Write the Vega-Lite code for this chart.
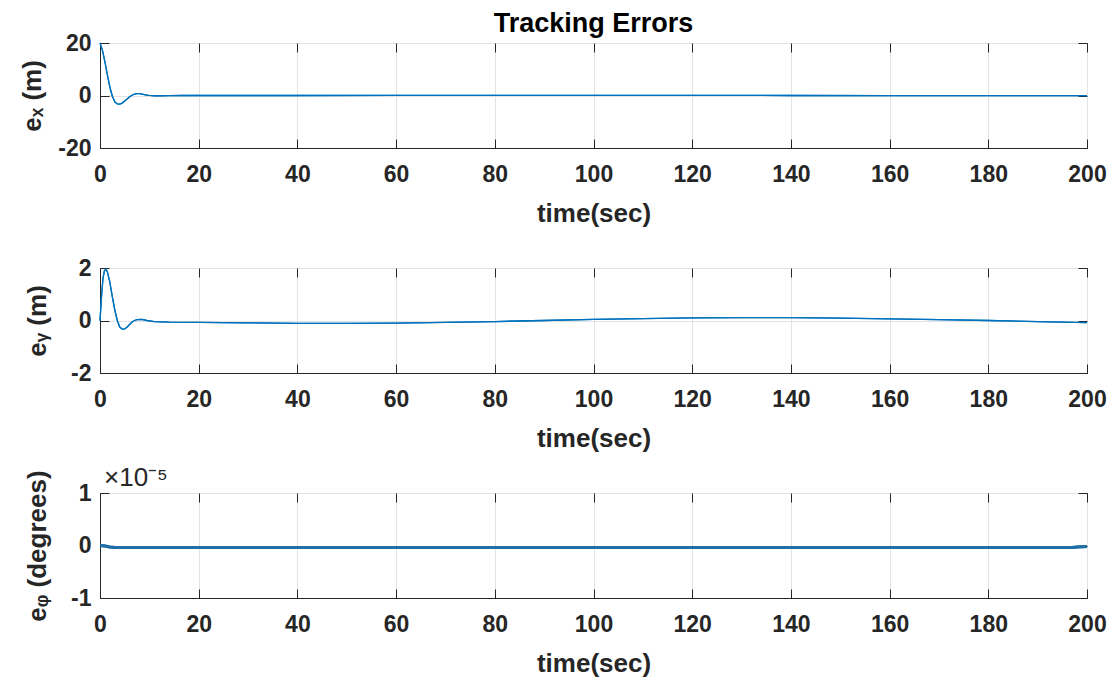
{
  "$schema": "https://vega.github.io/schema/vega-lite/v6.json",
  "background": "white",
  "padding": {"left": 19, "top": 9, "right": 5, "bottom": 5},
  "bounds": "flush",
  "spacing": 120,
  "datasets": {
    "ex": [
      {"t": 0, "e": 20}, {"t": 0.5, "e": 17.2}, {"t": 1, "e": 12.8}, {"t": 1.5, "e": 7.8},
      {"t": 2, "e": 3.2}, {"t": 2.5, "e": -0.3}, {"t": 3, "e": -2.4}, {"t": 3.5, "e": -3.2},
      {"t": 4, "e": -3.3}, {"t": 4.5, "e": -2.9}, {"t": 5, "e": -2.1}, {"t": 5.5, "e": -1.3},
      {"t": 6, "e": -0.5}, {"t": 6.5, "e": 0.1}, {"t": 7, "e": 0.5}, {"t": 7.5, "e": 0.7},
      {"t": 8, "e": 0.7}, {"t": 8.5, "e": 0.55}, {"t": 9, "e": 0.35}, {"t": 9.5, "e": 0.15},
      {"t": 10, "e": 0.02}, {"t": 11, "e": -0.1}, {"t": 12, "e": -0.1}, {"t": 14, "e": -0.05},
      {"t": 17, "e": 0}, {"t": 20, "e": 0}, {"t": 40, "e": 0}, {"t": 60, "e": 0.05},
      {"t": 80, "e": 0.08}, {"t": 100, "e": 0.08}, {"t": 120, "e": 0.05}, {"t": 140, "e": 0},
      {"t": 160, "e": -0.03}, {"t": 180, "e": -0.05}, {"t": 200, "e": -0.05}
    ],
    "ey": [
      {"t": 0, "e": 0}, {"t": 0.3, "e": 0.9}, {"t": 0.6, "e": 1.6}, {"t": 0.9, "e": 1.9},
      {"t": 1.2, "e": 1.95}, {"t": 1.5, "e": 1.85}, {"t": 2, "e": 1.45}, {"t": 2.5, "e": 0.9},
      {"t": 3, "e": 0.4}, {"t": 3.5, "e": 0}, {"t": 4, "e": -0.25}, {"t": 4.5, "e": -0.33},
      {"t": 5, "e": -0.32}, {"t": 5.5, "e": -0.25}, {"t": 6, "e": -0.15}, {"t": 6.5, "e": -0.06},
      {"t": 7, "e": 0}, {"t": 7.5, "e": 0.03}, {"t": 8.5, "e": 0.04}, {"t": 9.5, "e": 0},
      {"t": 11, "e": -0.04}, {"t": 14, "e": -0.06}, {"t": 20, "e": -0.07}, {"t": 30, "e": -0.09},
      {"t": 40, "e": -0.11}, {"t": 50, "e": -0.11}, {"t": 60, "e": -0.1}, {"t": 70, "e": -0.07},
      {"t": 80, "e": -0.04}, {"t": 90, "e": 0}, {"t": 100, "e": 0.04}, {"t": 110, "e": 0.07},
      {"t": 120, "e": 0.1}, {"t": 130, "e": 0.11}, {"t": 140, "e": 0.11}, {"t": 150, "e": 0.09},
      {"t": 160, "e": 0.06}, {"t": 170, "e": 0.03}, {"t": 180, "e": 0}, {"t": 190, "e": -0.04},
      {"t": 200, "e": -0.08}
    ],
    "ephi": [
      {"t": 0, "e": 0}, {"t": 1, "e": -1e-7}, {"t": 2, "e": -3e-7}, {"t": 3, "e": -4e-7},
      {"t": 20, "e": -4e-7}, {"t": 50, "e": -4e-7}, {"t": 100, "e": -4e-7}, {"t": 150, "e": -4e-7},
      {"t": 197, "e": -4e-7}, {"t": 198, "e": -3e-7}, {"t": 200, "e": -2e-7}
    ]
  },
  "config": {
    "font": "Liberation Sans",
    "view": {"stroke": "#262626", "strokeWidth": 1},
    "axis": {
      "labelFont": "Liberation Sans", "labelFontWeight": "bold", "labelFontSize": 23, "labelColor": "#262626",
      "labelFlush": false,
      "titleFont": "Liberation Sans", "titleFontWeight": "bold", "titleFontSize": 26, "titleColor": "#262626",
      "domainColor": "#262626", "tickColor": "#262626", "tickSize": -9,
      "gridColor": "#e3e3e3", "gridOpacity": 1
    },
    "title": {"font": "Liberation Sans", "color": "#000000"}
  },
  "vconcat": [
    {
      "width": 987, "height": 105,
      "title": {"text": "Tracking Errors", "frame": "group", "anchor": "middle", "fontSize": 27, "fontWeight": "bold", "offset": -6},
      "data": {"name": "ex"},
      "layer": [
        {
          "mark": {"type": "line", "color": "#0072BD", "strokeWidth": 1.3},
          "encoding": {
            "x": {"field": "t", "type": "quantitative", "scale": {"domain": [0, 200], "nice": false},
                  "axis": {"values": [0, 20, 40, 60, 80, 100, 120, 140, 160, 180, 200], "title": "time(sec)", "labelPadding": 24, "titlePadding": 14}},
            "y": {"field": "e", "type": "quantitative", "scale": {"domain": [-20, 20], "nice": false},
                  "axis": {"values": [-20, 0, 20], "labelExpr": "'' + datum.value", "title": "eₓ (m)", "titlePadding": 12, "labelPadding": 18}}
          }
        },
        {
          "mark": {"type": "line", "color": "#0072BD", "strokeWidth": 1.3},
          "encoding": {
            "x": {"field": "t", "type": "quantitative", "axis": {"orient": "top", "values": [0, 20, 40, 60, 80, 100, 120, 140, 160, 180, 200], "labels": false, "domain": false, "grid": false, "title": null}},
            "y": {"field": "e", "type": "quantitative", "axis": {"orient": "right", "values": [-20, 0, 20], "labels": false, "domain": false, "grid": false, "title": null}}
          }
        }
      ],
      "resolve": {"axis": {"x": "independent", "y": "independent"}}
    },
    {
      "width": 987, "height": 105,
      "data": {"name": "ey"},
      "layer": [
        {
          "mark": {"type": "line", "color": "#0072BD", "strokeWidth": 1.3},
          "encoding": {
            "x": {"field": "t", "type": "quantitative", "scale": {"domain": [0, 200], "nice": false},
                  "axis": {"values": [0, 20, 40, 60, 80, 100, 120, 140, 160, 180, 200], "title": "time(sec)", "labelPadding": 24, "titlePadding": 14}},
            "y": {"field": "e", "type": "quantitative", "scale": {"domain": [-2, 2], "nice": false},
                  "axis": {"values": [-2, 0, 2], "labelExpr": "'' + datum.value", "title": "eᵧ (m)", "titlePadding": 20, "labelPadding": 18}}
          }
        },
        {
          "mark": {"type": "line", "color": "#0072BD", "strokeWidth": 1.3},
          "encoding": {
            "x": {"field": "t", "type": "quantitative", "axis": {"orient": "top", "values": [0, 20, 40, 60, 80, 100, 120, 140, 160, 180, 200], "labels": false, "domain": false, "grid": false, "title": null}},
            "y": {"field": "e", "type": "quantitative", "axis": {"orient": "right", "values": [-2, 0, 2], "labels": false, "domain": false, "grid": false, "title": null}}
          }
        }
      ],
      "resolve": {"axis": {"x": "independent", "y": "independent"}}
    },
    {
      "width": 987, "height": 105,
      "title": {"text": "×10⁻⁵", "frame": "group", "anchor": "start", "fontSize": 26, "fontWeight": "normal", "color": "#262626", "offset": -21, "dx": 4},
      "data": {"name": "ephi"},
      "layer": [
        {
          "mark": {"type": "line", "color": "#1f6ea6", "strokeWidth": 3},
          "encoding": {
            "x": {"field": "t", "type": "quantitative", "scale": {"domain": [0, 200], "nice": false},
                  "axis": {"values": [0, 20, 40, 60, 80, 100, 120, 140, 160, 180, 200], "title": "time(sec)", "labelPadding": 24, "titlePadding": 14}},
            "y": {"field": "e", "type": "quantitative", "scale": {"domain": [-1e-5, 1e-5], "nice": false},
                  "axis": {"values": [-1e-5, 0, 1e-5], "labelExpr": "'' + round(datum.value * 100000)", "title": "eᵩ (degrees)", "titlePadding": 20, "labelPadding": 18}}
          }
        },
        {
          "mark": {"type": "line", "color": "#1f6ea6", "strokeWidth": 3},
          "encoding": {
            "x": {"field": "t", "type": "quantitative", "axis": {"orient": "top", "values": [0, 20, 40, 60, 80, 100, 120, 140, 160, 180, 200], "labels": false, "domain": false, "grid": false, "title": null}},
            "y": {"field": "e", "type": "quantitative", "axis": {"orient": "right", "values": [-1e-5, 0, 1e-5], "labels": false, "domain": false, "grid": false, "title": null}}
          }
        }
      ],
      "resolve": {"axis": {"x": "independent", "y": "independent"}}
    }
  ]
}
